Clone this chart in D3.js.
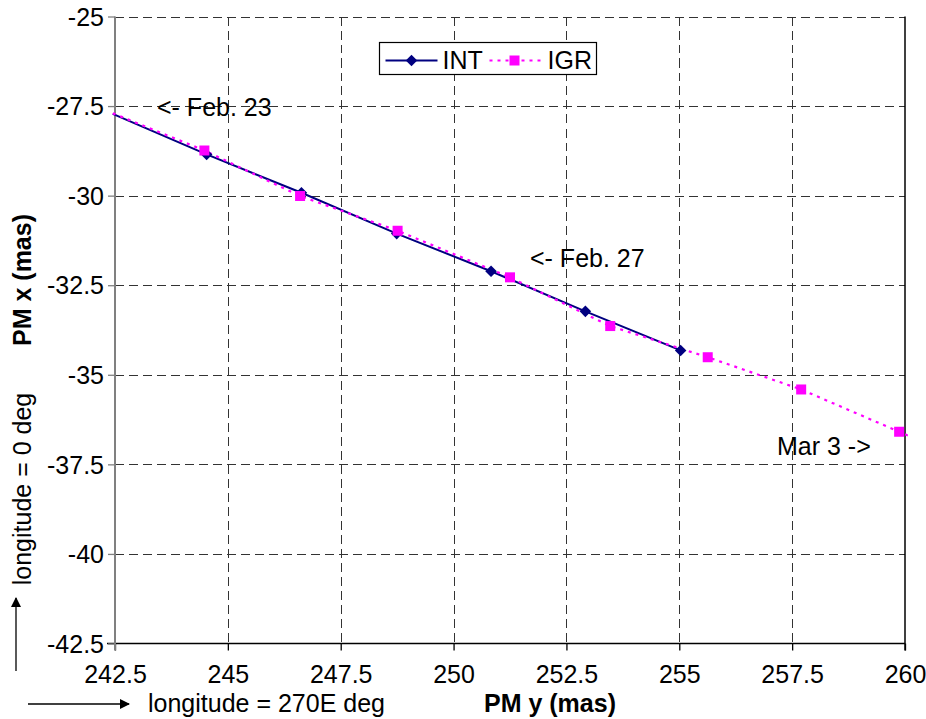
<!DOCTYPE html>
<html>
<head>
<meta charset="utf-8">
<script src="https://cdn.jsdelivr.net/npm/d3@7"></script>
<style>
  html, body { margin: 0; padding: 0; background: #fff; }
  svg { display: block; font-family: "Liberation Sans", Arial, sans-serif; }
</style>
</head>
<body>
<svg id="chart" width="926" height="719"></svg>
<script>
// Daily polar motion solutions, Feb. 23 – Mar. 3
const intDates = ["Feb. 23", "Feb. 24", "Feb. 25", "Feb. 26", "Feb. 27", "Feb. 28", "Feb. 29"];
const intPmY = [242.45, 244.53, 246.63, 248.74, 250.83, 252.92, 255.03];
const intPmX = [-27.72, -28.85, -29.92, -31.06, -32.11, -33.23, -34.32];

const igrDates = ["Feb. 23", "Feb. 24", "Feb. 25", "Feb. 26", "Feb. 27", "Feb. 28", "Feb. 29", "Mar. 1", "Mar. 2", "Mar. 3"];
const igrPmY = [242.45, 244.48, 246.60, 248.76, 251.25, 253.47, 255.63, 257.70, 259.87, 262.00];
const igrPmX = [-27.70, -28.74, -30.01, -30.98, -32.28, -33.64, -34.51, -35.41, -36.59, -37.75];

const xTicks = [242.5, 245, 247.5, 250, 252.5, 255, 257.5, 260];
const yTicks = [-25, -27.5, -30, -32.5, -35, -37.5, -40, -42.5];
const tickFmt = d => String(d);

const svg = d3.select("#chart");
const pL = 115, pR = 905, pT = 16.5, pB = 643.5;
const FONT = 25;

const x = d3.scaleLinear().domain([242.5, 260]).range([pL, pR]);
const y = d3.scaleLinear().domain([-42.5, -25]).range([pB, pT]);

// dashed major gridlines
const grid = svg.append("g").attr("stroke", "#333").attr("stroke-width", 1.3)
  .attr("stroke-dasharray", "9,5").attr("shape-rendering", "crispEdges");
grid.selectAll("line.v").data(xTicks.slice(1, -1)).join("line")
  .attr("x1", d => Math.round(x(d)) + 0.5).attr("x2", d => Math.round(x(d)) + 0.5)
  .attr("y1", pT).attr("y2", pB);
grid.selectAll("line.h").data(yTicks.slice(0, -1)).join("line")
  .attr("x1", pL).attr("x2", pR)
  .attr("y1", d => Math.round(y(d)) + 0.5).attr("y2", d => Math.round(y(d)) + 0.5);

// right frame
svg.append("line").attr("x1", pR).attr("x2", pR).attr("y1", pT).attr("y2", pB + 7)
  .attr("stroke", "#000").attr("stroke-width", 1.5);

// axes
const xAxis = d3.axisBottom(x).tickValues(xTicks).tickFormat(tickFmt).tickSize(7).tickSizeOuter(0);
const yAxis = d3.axisLeft(y).tickValues(yTicks).tickFormat(tickFmt).tickSize(7).tickSizeOuter(0);

const gx = svg.append("g").attr("transform", `translate(0,${pB})`).call(xAxis);
gx.select(".domain").attr("stroke", "#000").attr("stroke-width", 1.5).attr("d", `M${pL - 8},0H${pR}`);
gx.selectAll(".tick line").attr("stroke", "#000").attr("stroke-width", 1.3);
gx.selectAll(".tick text").attr("font-size", FONT).attr("font-family", "Liberation Sans, Arial, sans-serif")
  .attr("fill", "#000").attr("y", 22).attr("dy", "0.71em");

const gy = svg.append("g").attr("transform", `translate(${pL},0)`).call(yAxis);
gy.select(".domain").attr("stroke", "#808080").attr("stroke-width", 2).attr("d", `M0,${pT}V${pB + 7}`);
gy.selectAll(".tick line").attr("stroke", "#808080").attr("stroke-width", 1.3);
gy.selectAll(".tick text").attr("font-size", FONT).attr("font-family", "Liberation Sans, Arial, sans-serif")
  .attr("fill", "#000").attr("x", -11).attr("dy", "0.35em");

// series
svg.append("clipPath").attr("id", "plotClip").append("rect")
  .attr("x", pL - 3).attr("y", pT).attr("width", pR - pL + 6).attr("height", pB - pT);

const intData = intDates.map((d, i) => ({ date: d, py: intPmY[i], px: intPmX[i] }));
const igrData = igrDates.map((d, i) => ({ date: d, py: igrPmY[i], px: igrPmX[i] }));
const line = d3.line().x(d => x(d.py)).y(d => y(d.px));
const inDomain = d => d.py >= 242.5 && d.py <= 260 && d.px >= -42.5 && d.px <= -25;

const series = svg.append("g").attr("clip-path", "url(#plotClip)");
series.append("path").datum(intData).attr("d", line)
  .attr("fill", "none").attr("stroke", "#000080").attr("stroke-width", 2);
series.append("path").datum(igrData).attr("d", line)
  .attr("fill", "none").attr("stroke", "#ff00ff").attr("stroke-width", 2.2)
  .attr("stroke-dasharray", "3,5");

const diamond = d3.symbol().type(d3.symbolDiamond2).size(85);
svg.append("g").selectAll("path").data(intData.filter(inDomain)).join("path")
  .attr("d", diamond).attr("transform", d => `translate(${x(d.py)},${y(d.px)})`)
  .attr("fill", "#000080");
svg.append("g").selectAll("rect").data(igrData.filter(inDomain)).join("rect")
  .attr("x", d => x(d.py) - 5).attr("y", d => y(d.px) - 5)
  .attr("width", 10).attr("height", 10).attr("fill", "#ff00ff");

// date annotations
const note = (txt, tx, ty) => svg.append("text").attr("x", tx).attr("y", ty)
  .attr("dy", "0.35em").attr("font-size", FONT).attr("fill", "#000").text(txt);
note("<- Feb. 23", 157, 107);
note("<- Feb. 27", 530, 258);
note("Mar 3 ->", 777, 446);

// legend
const lg = svg.append("g").attr("transform", "translate(379.5,42.5)");
lg.append("rect").attr("width", 217).attr("height", 32).attr("fill", "#fff")
  .attr("stroke", "#000").attr("stroke-width", 1.2);
lg.append("line").attr("x1", 6).attr("x2", 58).attr("y1", 18).attr("y2", 18)
  .attr("stroke", "#000080").attr("stroke-width", 2);
lg.append("path").attr("d", diamond).attr("transform", "translate(32,18)").attr("fill", "#000080");
lg.append("text").attr("x", 63).attr("y", 18).attr("dy", "0.35em").attr("font-size", FONT).text("INT");
lg.append("line").attr("x1", 110).attr("x2", 163).attr("y1", 18).attr("y2", 18)
  .attr("stroke", "#ff00ff").attr("stroke-width", 2.2).attr("stroke-dasharray", "3,5");
lg.append("rect").attr("x", 130).attr("y", 13).attr("width", 10).attr("height", 10).attr("fill", "#ff00ff");
lg.append("text").attr("x", 168).attr("y", 18).attr("dy", "0.35em").attr("font-size", FONT).text("IGR");

// axis titles
svg.append("text").attr("transform", "translate(22,280) rotate(-90)")
  .attr("text-anchor", "middle").attr("dy", "0.35em").attr("font-size", FONT).attr("font-weight", "bold")
  .text("PM x (mas)");
svg.append("text").attr("transform", "translate(22,489) rotate(-90)")
  .attr("text-anchor", "middle").attr("dy", "0.35em").attr("font-size", FONT)
  .text("longitude = 0 deg");
svg.append("text").attr("x", 484).attr("y", 703).attr("dy", "0.35em")
  .attr("font-size", FONT).attr("font-weight", "bold").text("PM y (mas)");
svg.append("text").attr("x", 148).attr("y", 703).attr("dy", "0.35em")
  .attr("font-size", FONT).text("longitude = 270E deg");

// direction arrows
svg.append("defs").append("marker").attr("id", "head").attr("viewBox", "0 0 10 10")
  .attr("refX", 9).attr("refY", 5).attr("markerWidth", 10).attr("markerHeight", 10)
  .attr("markerUnits", "userSpaceOnUse").attr("orient", "auto")
  .append("path").attr("d", "M0,0L10,5L0,10Z").attr("fill", "#000");
svg.append("line").attr("x1", 16).attr("x2", 16).attr("y1", 671).attr("y2", 598)
  .attr("stroke", "#000").attr("stroke-width", 1.3).attr("marker-end", "url(#head)");
svg.append("line").attr("x1", 28).attr("x2", 129).attr("y1", 704).attr("y2", 704)
  .attr("stroke", "#000").attr("stroke-width", 1.3).attr("marker-end", "url(#head)");
</script>
</body>
</html>
